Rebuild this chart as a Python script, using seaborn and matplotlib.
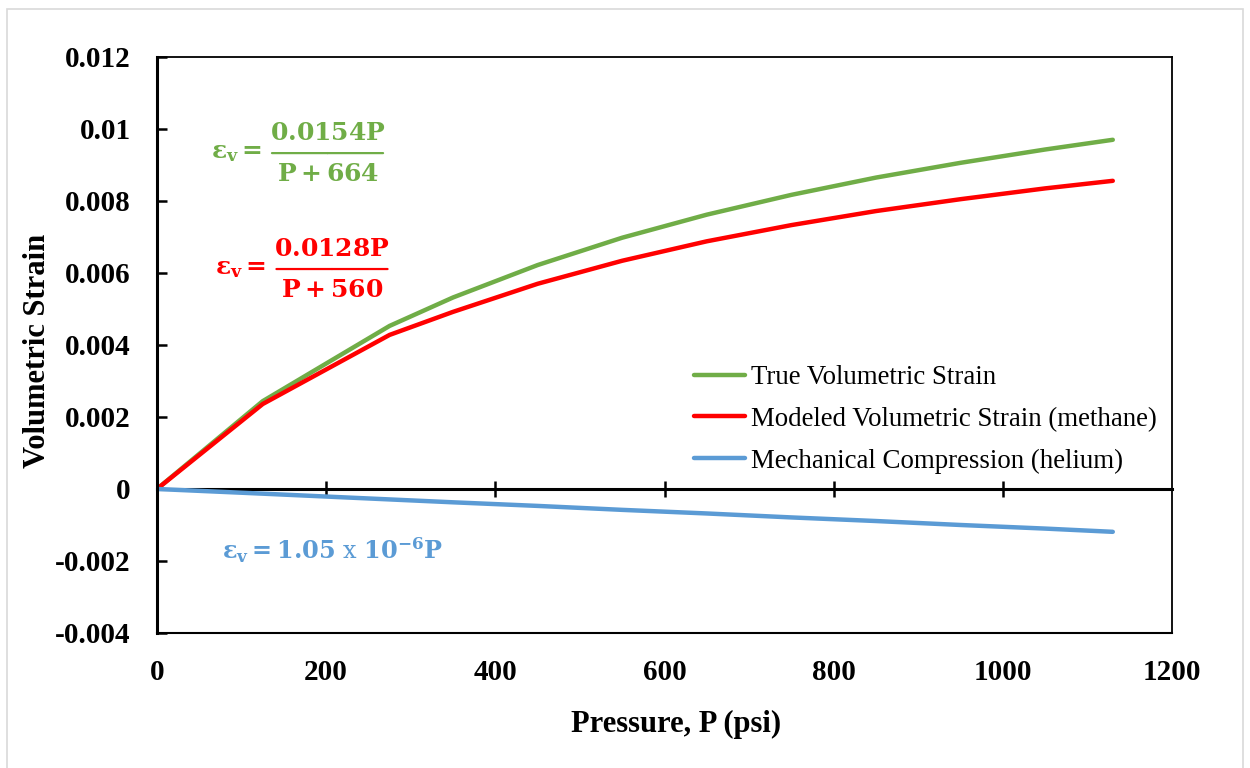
import pandas as pd
import matplotlib.pyplot as plt
import seaborn as sns
from matplotlib.lines import Line2D

# values
pressure = [0, 125, 275, 350, 450, 550, 650, 750, 850, 950, 1050, 1130]
true_strain = [0, 0.00244, 0.00453, 0.00532, 0.00622, 0.00698, 0.00762, 0.00817,
               0.00865, 0.00906, 0.00943, 0.00970]
modeled_strain = [0, 0.00236, 0.00428, 0.00492, 0.00570, 0.00634, 0.00688, 0.00733,
                  0.00772, 0.00805, 0.00835, 0.00856]
helium_strain = [0, -0.00013, -0.00029, -0.00037, -0.00047, -0.00058, -0.00068, -0.00079,
                 -0.00089, -0.00100, -0.00110, -0.00119]

series_names = ["True Volumetric Strain",
                "Modeled Volumetric Strain (methane)",
                "Mechanical Compression (helium)"]
series_colors = ["#70AD47", "#FF0000", "#5B9BD5"]
x_ticks = [0, 200, 400, 600, 800, 1000, 1200]
y_ticks = [-0.004, -0.002, 0, 0.002, 0.004, 0.006, 0.008, 0.01, 0.012]
y_ticklabels = ["-0.004", "-0.002", "0", "0.002", "0.004", "0.006", "0.008", "0.01", "0.012"]

sns.set_theme(style="white")
plt.rcParams['font.family'] = ['Liberation Serif', 'DejaVu Serif']
plt.rcParams['mathtext.fontset'] = 'dejavuserif'
plt.rcParams['mathtext.default'] = 'bf'
for key in ['text.color', 'axes.labelcolor', 'xtick.color', 'ytick.color']:
    plt.rcParams[key] = 'black'

# long form table for seaborn
df = pd.concat([
    pd.DataFrame({"P": pressure, "strain": vals, "series": name})
    for name, vals in zip(series_names, [true_strain, modeled_strain, helium_strain])
])

fig = plt.figure(figsize=(12.5, 7.68), dpi=100)
ax = fig.add_axes([0.1256, 0.1758, 0.812, 0.75])

sns.lineplot(data=df, x="P", y="strain", hue="series", hue_order=series_names,
             palette=dict(zip(series_names, series_colors)), linewidth=3.2,
             ax=ax, legend=False, solid_capstyle='round', solid_joinstyle='round')

ax.set_xlim(0, 1200)
ax.set_ylim(-0.004, 0.012)
ax.set_xticks(x_ticks)
ax.set_xticklabels([str(t) for t in x_ticks])
ax.set_yticks(y_ticks)
ax.set_yticklabels(y_ticklabels)
ax.tick_params(axis='x', length=0, pad=19, labelsize=21)
ax.tick_params(axis='y', direction='in', length=7, width=1.8, pad=19, labelsize=21, left=True)
for lab in ax.get_xticklabels() + ax.get_yticklabels():
    lab.set_fontweight('bold')

for side, lw in [('left', 2.2), ('top', 1.3), ('right', 1.3), ('bottom', 1.5)]:
    ax.spines[side].set_color('black')
    ax.spines[side].set_linewidth(lw)

# zero line with tick marks crossing it
zero_ax = ax.secondary_xaxis(0.25)
zero_ax.set_xticks(x_ticks[1:-1])
zero_ax.tick_params(axis='x', direction='inout', length=12, width=1.8, labelbottom=False, pad=0)
zero_ax.spines['bottom'].set_linewidth(2.2)
zero_ax.spines['bottom'].set_color('black')
zero_ax.set_xticklabels([])

ax.set_xlabel("Pressure, P (psi)", fontsize=22, fontweight='bold')
ax.xaxis.set_label_coords(0.511, -0.134)
ax.set_ylabel("Volumetric Strain", fontsize=22, fontweight='bold')
ax.yaxis.set_label_coords(-0.103, 0.49)


def fraction_eq(x, y, num, den, color):
    # eps_v = num / den, anchored at the middle of the fraction bar
    kw = dict(xycoords='data', textcoords='offset points', color=color, fontsize=18)
    ax.annotate(r'$\varepsilon_v =$', (x, y), xytext=(-47, 0), ha='right', va='center', **kw)
    ax.annotate('$' + num + '$', (x, y), xytext=(0, 13.5), ha='center', va='center', **kw)
    ax.annotate('$' + den + '$', (x, y), xytext=(0, -15.5), ha='center', va='center', **kw)
    ax.annotate('', (x, y), xytext=(-40, 0), xycoords='data', textcoords='offset points',
                arrowprops=dict(arrowstyle='-', color=color, lw=1.6,
                                shrinkA=0, shrinkB=0, relpos=(0, 0.5)))
    ax.annotate('', (x, y), xytext=(40, 0), xycoords='data', textcoords='offset points',
                arrowprops=dict(arrowstyle='-', color=color, lw=1.6,
                                shrinkA=0, shrinkB=0, relpos=(0, 0.5)))


fraction_eq(201.6, 0.00933, '0.0154P', 'P+664', series_colors[0])
fraction_eq(206.9, 0.00611, '0.0128P', 'P+560', series_colors[1])
ax.text(207, -0.0017, r'$\varepsilon_v = 1.05\ \mathrm{x}\ 10^{-6}P$', color=series_colors[2],
        fontsize=17.3, ha='center', va='center')

handles = [Line2D([], [], color=c, linewidth=3.2, solid_capstyle='round') for c in series_colors]
ax.legend(handles, series_names, loc='upper left', bbox_to_anchor=(0.529, 0.465),
          frameon=False, fontsize=19.4, handlelength=1.9, handletextpad=0.2,
          labelspacing=0.62, borderpad=0, borderaxespad=0)

# light chart-area border
fig.add_artist(plt.Rectangle((0.0056, -0.01), 0.989, 0.998, transform=fig.transFigure,
                             fill=False, edgecolor='#D9D9D9', linewidth=1.2))

plt.savefig('out.png', dpi=100)
